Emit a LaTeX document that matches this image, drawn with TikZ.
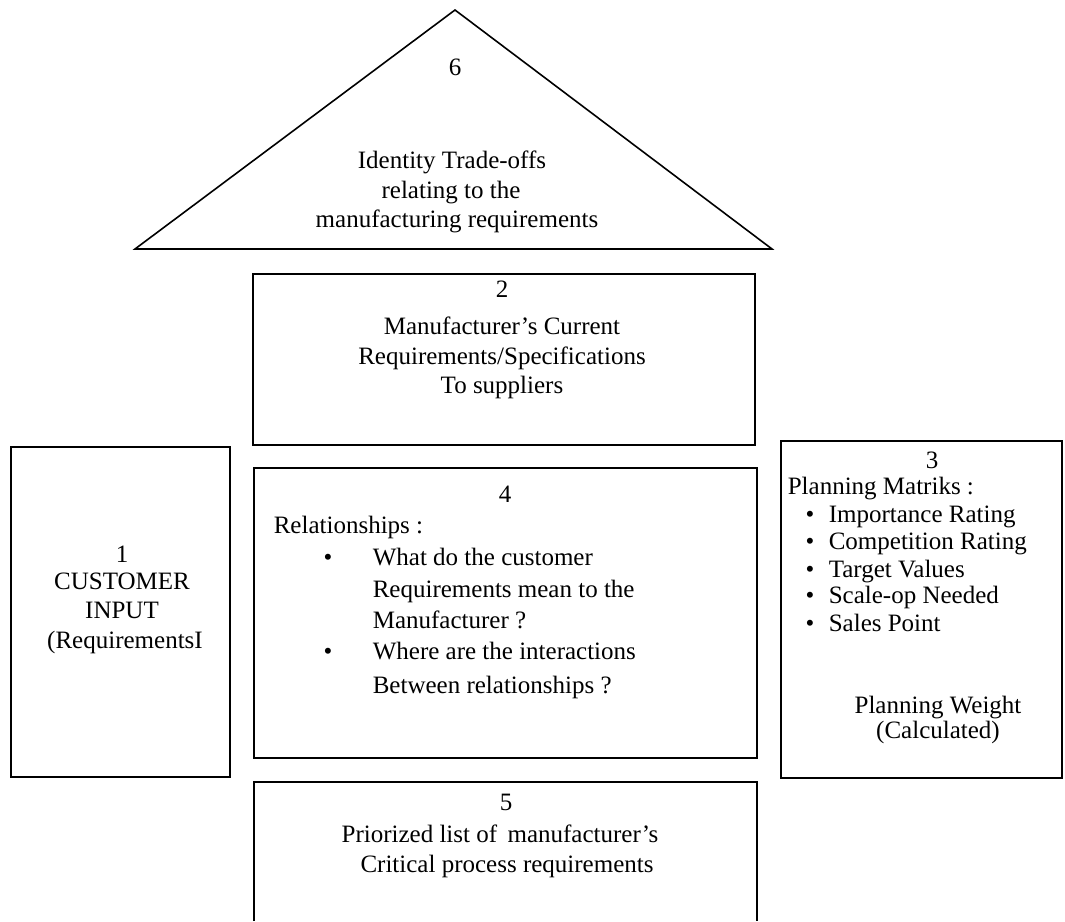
\documentclass[tikz,border=0pt]{standalone}
\usepackage{fontspec}
\setmainfont{Liberation Serif}
\begin{document}
\begin{tikzpicture}[x=1pt,y=-1pt,line width=1.6pt,
  shp/.style={draw=black,line width=1.6pt},
  txt/.style={anchor=base,inner sep=0pt,font=\fontsize{25}{30}\selectfont},
  txtl/.style={anchor=base west,inner sep=0pt,font=\fontsize{25}{30}\selectfont}]
\useasboundingbox (0,0) rectangle (1065,921);
\fill[white] (0,0) rectangle (1065,921);
% 6 triangle
\draw[shp,line join=miter] (135,249) -- (455,10) -- (772,249) -- cycle;
\node[txt] (t6n) at (455,75) {6};
\node[txt] (t6a) at (452,168) {Identity Trade-offs};
\node[txt] (t6b) at (451,198) {relating to the};
\node[txt] (t6c) at (457,227) {manufacturing requirements};
% 2
\draw[shp] (253,274) rectangle (755,445);
\node[txt] (t2n) at (502,297) {2};
\node[txt] (t2a) at (502,334) {Manufacturer’s Current};
\node[txt] (t2b) at (502,364) {Requirements/Specifications};
\node[txt] (t2c) at (502,393) {To suppliers};
% 1
\draw[shp] (11,447) rectangle (230,777);
\node[txt] (t1n) at (122,562) {1};
\node[txt] (t1a) at (122,589) {CUSTOMER};
\node[txt] (t1b) at (122,618) {INPUT};
\node[txt] (t1c) at (125,648) {(RequirementsI};
% 4
\draw[shp] (254,468) rectangle (757,758);
\node[txt] (t4n) at (505,502) {4};
\node[txtl] (t4a) at (273,533) {Relationships :};
\node[txt] (b4a) at (328,565) {\textbullet};
\node[txtl] (t4b) at (372,565) {What do the customer};
\node[txtl] (t4c) at (372,597) {Requirements mean to the};
\node[txtl] (t4d) at (372,628) {Manufacturer ?};
\node[txt] (b4b) at (328,659) {\textbullet};
\node[txtl] (t4e) at (372,659) {Where are the interactions};
\node[txtl] (t4f) at (372,693) {Between relationships ?};
% 3
\draw[shp] (781,441) rectangle (1062,778);
\node[txt,text height=17pt,text depth=0pt] (t3n) at (932,468) {3};
\node[txtl,text height=17pt] (t3a) at (787,494) {Planning Matriks :};
\node[txt] (b3a) at (810,522) {\textbullet};
\node[txtl] (t3b) at (828,522) {Importance Rating};
\node[txt] (b3b) at (810,549) {\textbullet};
\node[txtl] (t3c) at (828,549) {Competition Rating};
\node[txt] (b3c) at (810,577) {\textbullet};
\node[txtl] (t3d) at (828,577) {Target Values};
\node[txt] (b3d) at (810,603) {\textbullet};
\node[txtl] (t3e) at (828,603) {Scale-op Needed};
\node[txt] (b3e) at (810,631) {\textbullet};
\node[txtl] (t3f) at (828,631) {Sales Point};
\node[txt] (t3g) at (938,713) {Planning Weight};
\node[txt] (t3h) at (938,738) {(Calculated)};
% 5
\draw[shp] (254,921) -- (254,782) -- (757,782) -- (757,921);
\node[txt] (t5n) at (506,810) {5};
\node[txt] (t5a) at (500,842) {Priorized list of\, manufacturer’s};
\node[txt] (t5b) at (507,872) {Critical process requirements};
\end{tikzpicture}
\end{document}
